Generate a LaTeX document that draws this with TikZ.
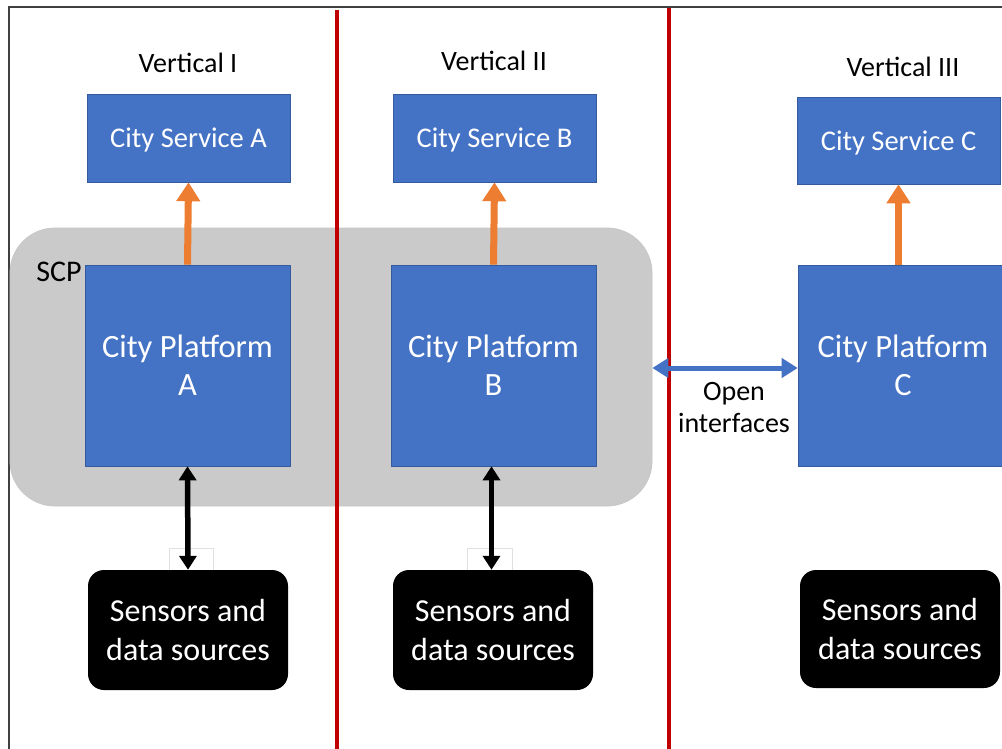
\documentclass[tikz,border=0pt]{standalone}
\usepackage{fontspec}
\setmainfont{Carlito}
\usetikzlibrary{arrows.meta}
\definecolor{cblue}{HTML}{4472C4}
\definecolor{corange}{HTML}{ED7D31}
\definecolor{cred}{HTML}{C00000}
\definecolor{cgray}{HTML}{CACACA}
\tikzset{
  svc/.style={fill=cblue, draw=cblue!80!black, line width=0.6pt, text=white, text height=22pt, text depth=2pt, font=\fontsize{28.5}{32}\selectfont},
  plat/.style={fill=cblue, draw=cblue!80!black, line width=0.6pt, text=white, align=center, font=\fontsize{32.5}{38}\selectfont},
  sens/.style={fill=black, rounded corners=16pt, text=white, align=center, font=\fontsize{32}{39}\selectfont},
  vlabel/.style={font=\fontsize{28}{32}\selectfont},
  upar/.style={corange, line width=7pt, -{Triangle[width=23pt,length=19pt]}},
  bkar/.style={black, line width=5.5pt, {Triangle[width=17pt,length=14pt]}-{Triangle[width=17pt,length=14pt]}},
  blar/.style={cblue, line width=5pt, {Triangle[width=19pt,length=16pt]}-{Triangle[width=19pt,length=16pt]}},
  redline/.style={cred, line width=3.5pt},
  faint/.style={draw=black!12, line width=0.6pt}
}
\begin{document}
\begin{tikzpicture}[x=1pt,y=-1pt]
\useasboundingbox (0,0) rectangle (1002,749);
\fill[white] (0,0) rectangle (1002,749);
% frame
\draw[black!75, line width=1.2pt] (9,749) -- (9,7) -- (1002,7);
% SCP
\node[fill=cgray, draw=black!22, line width=0.8pt, rounded corners=45pt, minimum width=642pt, minimum height=278pt, inner sep=0pt] (scp) at (331,367) {};
\node[font=\fontsize{30}{34}\selectfont, anchor=center] (scplbl) at (59,272) {SCP};
% faint boxes
\draw[faint] (169,548) rectangle (213,571);
\draw[faint] (467,548) rectangle (512,571);
% red lines
\draw[redline] (337,10) -- (337,749);
\draw[redline] (669,8) -- (669,749);
% vertical labels
\node[vlabel] (v1) at (188,63) {Vertical I};
\node[vlabel] (v2) at (494,61) {Vertical II};
\node[vlabel] (v3) at (903,67) {Vertical III};
% services
\node[svc, minimum width=203pt, minimum height=88pt, inner sep=0pt] (sa) at (188.5,138) {City Service A};
\node[svc, minimum width=203pt, minimum height=88pt, inner sep=0pt] (sb) at (494.5,138) {City Service B};
\node[svc, minimum width=203pt, minimum height=87pt, inner sep=0pt] (sc) at (898.5,140.5) {City Service C};
% platforms
\node[plat, minimum width=205pt, minimum height=201pt, inner sep=0pt] (pa) at (187.5,365.5) {City Platform\\A};
\node[plat, minimum width=205pt, minimum height=201pt, inner sep=0pt] (pb) at (493.5,365.5) {City Platform\\B};
\node[plat, minimum width=210pt, minimum height=201pt, inner sep=0pt] (pc) at (903,365.5) {City Platform\\C};
% sensors
\node[sens, minimum width=200pt, minimum height=120pt, inner sep=0pt] (da) at (188,630) {Sensors and\\data sources};
\node[sens, minimum width=200pt, minimum height=120pt, inner sep=0pt] (db) at (493,630) {Sensors and\\data sources};
\node[sens, minimum width=200pt, minimum height=118pt, inner sep=0pt] (dc) at (900,629) {Sensors and\\data sources};
% arrows
\draw[upar] (pa.north) -- (sa.south);
\draw[upar] (pb.north) -- (sb.south);
\draw[upar] (pc.north -| sc.south) -- (sc.south);
\draw[bkar] (pa.south) -- (da.north);
\draw[bkar] ([xshift=-2pt]pb.south) -- ([xshift=-2pt]pb.south |- db.north);
\draw[blar] (scp.east |- 0,368) -- (pc.west |- 0,368);
\node[font=\fontsize{28}{32}\selectfont, align=center] (oi) at (734,408) {Open\\interfaces};
\end{tikzpicture}
\end{document}
